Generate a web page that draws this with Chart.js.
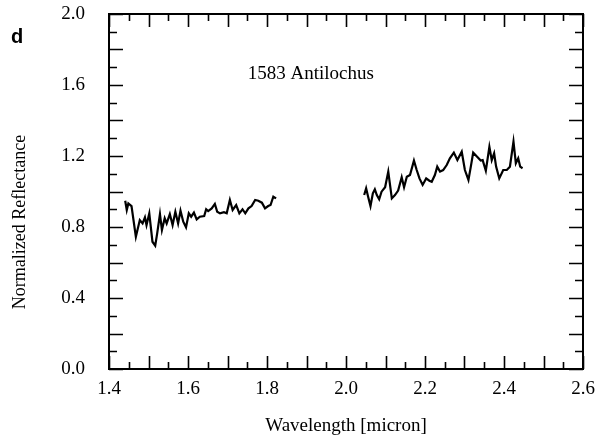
<!DOCTYPE html>
<html>
<head>
<meta charset="utf-8">
<script src="https://cdn.jsdelivr.net/npm/chart.js@4"></script>
<style>
    html, body { margin: 0; padding: 0; background: #ffffff; }
    #wrap { width: 595px; height: 442px; }
</style>
</head>
<body>
<div id="wrap"><canvas id="spectrum"></canvas></div>
<script>
// Spektrum, första delen (H-bandet)
const wave1 = [1.441, 1.445, 1.449, 1.457, 1.468, 1.478, 1.485, 1.491, 1.495, 1.502,
    1.510, 1.517, 1.522, 1.529, 1.534, 1.541, 1.546, 1.554, 1.561, 1.568,
    1.575, 1.581, 1.588, 1.595, 1.602, 1.608, 1.615, 1.622, 1.630, 1.641,
    1.646, 1.651, 1.660, 1.668, 1.674, 1.681, 1.691, 1.698, 1.706, 1.713,
    1.722, 1.730, 1.738, 1.745, 1.753, 1.761, 1.770, 1.778, 1.787, 1.795,
    1.803, 1.809, 1.816, 1.823];
const refl1 = [0.948, 0.896, 0.933, 0.918, 0.745, 0.839, 0.820, 0.854, 0.811, 0.877,
    0.717, 0.695, 0.764, 0.873, 0.783, 0.849, 0.820, 0.873, 0.811, 0.886,
    0.820, 0.892, 0.830, 0.798, 0.877, 0.858, 0.881, 0.843, 0.858, 0.862,
    0.900, 0.890, 0.905, 0.930, 0.886, 0.877, 0.883, 0.877, 0.952, 0.896,
    0.924, 0.877, 0.900, 0.877, 0.905, 0.918, 0.952, 0.948, 0.937, 0.905,
    0.918, 0.924, 0.971, 0.961];

// Spektrum, andra delen (K-bandet)
const wave2 = [2.046, 2.051, 2.056, 2.062, 2.068, 2.073, 2.078, 2.084, 2.090, 2.099,
    2.107, 2.116, 2.124, 2.132, 2.141, 2.147, 2.154, 2.162, 2.172, 2.179,
    2.186, 2.194, 2.203, 2.211, 2.217, 2.225, 2.231, 2.238, 2.246, 2.255,
    2.263, 2.273, 2.282, 2.293, 2.301, 2.310, 2.316, 2.322, 2.332, 2.341,
    2.346, 2.354, 2.358, 2.363, 2.369, 2.375, 2.380, 2.388, 2.398, 2.407,
    2.415, 2.424, 2.430, 2.436, 2.441, 2.447];
const refl2 = [0.980, 1.018, 0.971, 0.918, 0.990, 1.012, 0.980, 0.956, 0.999, 1.024,
    1.112, 0.961, 0.980, 1.005, 1.080, 1.024, 1.083, 1.093, 1.174, 1.121,
    1.074, 1.037, 1.074, 1.061, 1.055, 1.093, 1.140, 1.112, 1.121, 1.149,
    1.187, 1.219, 1.177, 1.224, 1.121, 1.065, 1.140, 1.219, 1.196, 1.174,
    1.177, 1.117, 1.177, 1.252, 1.177, 1.215, 1.140, 1.074, 1.121, 1.121,
    1.140, 1.281, 1.159, 1.187, 1.140, 1.131];

// Axlar och texter
const xRange = [1.4, 2.6];
const yRange = [0.0, 2.0];
const xStep = 0.2;
const yStep = 0.4;
const objectName = '1583 Antilochus';
const panelLetter = 'd';
const xTitle = 'Wavelength [micron]';
const yTitle = 'Normalized Reflectance';

const SERIF = "'Liberation Serif', 'Times New Roman', serif";

function toPoints(xs, ys) {
    return xs.map((x, i) => ({ x: x, y: ys[i] }));
}

// Ram, inåtriktade tickmarkeringar och fria texter
const framePlugin = {
    id: 'frame',
    afterDraw(chart) {
        const { ctx, chartArea: a, scales } = chart;
        const xs = scales.x, ys = scales.y;
        ctx.save();
        ctx.strokeStyle = '#000';

        // tickmarkeringar på x (var 0.05, längre var 0.1)
        ctx.lineWidth = 1.6;
        for (let i = 0; i <= 24; i++) {
            const v = xRange[0] + i * 0.05;
            const px = Math.round(xs.getPixelForValue(v)) + 0.5;
            const len = i % 2 === 0 ? 13 : 7;
            ctx.beginPath();
            ctx.moveTo(px, a.bottom); ctx.lineTo(px, a.bottom - len);
            ctx.moveTo(px, a.top); ctx.lineTo(px, a.top + len);
            ctx.stroke();
        }
        // tickmarkeringar på y (var 0.1, längre var 0.2)
        for (let i = 0; i <= 20; i++) {
            const v = yRange[0] + i * 0.1;
            const py = Math.round(ys.getPixelForValue(v)) + 0.5;
            const len = i % 2 === 0 ? 14 : 8;
            ctx.beginPath();
            ctx.moveTo(a.left, py); ctx.lineTo(a.left + len, py);
            ctx.moveTo(a.right, py); ctx.lineTo(a.right - len, py);
            ctx.stroke();
        }

        // ram
        ctx.lineWidth = 2;
        ctx.strokeRect(a.left, a.top, a.right - a.left, a.bottom - a.top);

        // objektnamn
        ctx.fillStyle = '#000';
        ctx.font = '19px ' + SERIF;
        ctx.textAlign = 'center';
        ctx.textBaseline = 'middle';
        ctx.fillText(objectName, xs.getPixelForValue(1.911), ys.getPixelForValue(1.66));

        // panelbokstav
        ctx.font = 'bold 20px "Liberation Sans", Arial, sans-serif';
        ctx.fillText(panelLetter, 17, 37);

        // y-axelns titel
        ctx.font = '18px ' + SERIF;
        ctx.translate(20, 222);
        ctx.rotate(-Math.PI / 2);
        ctx.fillText(yTitle, 0, 0);
        ctx.restore();
    }
};

const ctx = document.getElementById('spectrum').getContext('2d');
new Chart(ctx, {
    type: 'line',
    data: {
        datasets: [
            { data: toPoints(wave1, refl1) },
            { data: toPoints(wave2, refl2) }
        ]
    },
    options: {
        responsive: true,
        maintainAspectRatio: false,
        animation: false,
        layout: { padding: { top: 14, right: 12, left: 0, bottom: 0 } },
        elements: {
            line: { borderColor: '#000', borderWidth: 2.2, tension: 0 },
            point: { radius: 0 }
        },
        scales: {
            x: {
                type: 'linear',
                min: xRange[0],
                max: xRange[1],
                // tickLength ger avståndet till etiketterna, själva strecken ritas i pluginet
                grid: { display: false, drawTicks: true, tickLength: 9 },
                border: { display: false },
                ticks: {
                    stepSize: xStep,
                    padding: 0,
                    color: '#000',
                    font: { family: SERIF, size: 19 },
                    callback: v => v.toFixed(1)
                },
                title: {
                    display: true,
                    text: xTitle,
                    color: '#000',
                    font: { family: SERIF, size: 19 },
                    padding: { top: 1, bottom: 5 }
                },
                afterFit: s => { s.height = 73; }
            },
            y: {
                min: yRange[0],
                max: yRange[1],
                grid: { display: false, drawTicks: true, tickLength: 24 },
                border: { display: false },
                ticks: {
                    stepSize: yStep,
                    padding: 0,
                    color: '#000',
                    font: { family: SERIF, size: 19 },
                    callback: v => v.toFixed(1)
                },
                afterFit: s => { s.width = 109; }
            }
        },
        plugins: {
            legend: { display: false },
            tooltip: { enabled: false }
        }
    },
    plugins: [framePlugin]
});
</script>
</body>
</html>
